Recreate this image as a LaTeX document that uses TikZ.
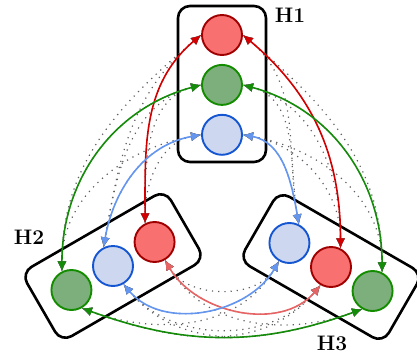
\documentclass[tikz,border=0pt]{standalone}
\usepackage{tikz}
\usetikzlibrary{arrows.meta, positioning}

\definecolor{ballred}{RGB}{248,112,112}
\definecolor{rimred}{RGB}{160,0,0}
\definecolor{ballgreen}{RGB}{125,175,125}
\definecolor{rimgreen}{RGB}{20,140,0}
\definecolor{ballblue}{RGB}{205,215,240}
\definecolor{rimblue}{RGB}{20,85,210}
\definecolor{linkred}{RGB}{210,0,0}
\definecolor{linksalmon}{RGB}{230,100,100}
\definecolor{linkgreen}{RGB}{20,140,10}
\definecolor{linkblue}{RGB}{100,150,240}

\begin{document}
\begin{tikzpicture}[
         x=1pt, y=1pt,
         hostbox/.style={draw, line width=2.6pt, rounded corners=12pt},
         ball/.style={circle, line width=1.9pt, minimum size=40pt, inner sep=0pt},
         redball/.style={ball, draw=rimred, fill=ballred},
         greenball/.style={ball, draw=rimgreen, fill=ballgreen},
         blueball/.style={ball, draw=rimblue, fill=ballblue},
         hostlabel/.style={font=\fontsize{21}{25}\selectfont\bfseries},
         link/.style={{Latex[length=10pt,width=9pt]}-{Latex[length=10pt,width=9pt]}, line width=1.6pt},
         ghost/.style={link, gray!75!black, line width=1.2pt, dash pattern=on 1.2pt off 5pt}
      ]
         \useasboundingbox (0,0) rectangle (417,357);

         % Host H1
         \node[hostbox, minimum width=88pt, minimum height=156pt] (box1) at (222,273) {};
         \node[redball] (h1r) at (222,322) {};
         \node[greenball] (h1g) [below=8pt of h1r] {};
         \node[blueball] (h1b) [below=8pt of h1g] {};
         \node[hostlabel] (l1) at (290,342) {H1};

         % Host H2
         \begin{scope}[shift={(113,91)}, rotate=30]
            \draw[hostbox] (-83,-40) rectangle (83,40);
            \node[greenball] (h2g) at (-48,0) {};
            \node[blueball] (h2b) at (0,0) {};
            \node[redball] (h2r) at (48,0) {};
         \end{scope}
         \node[hostlabel] (l2) at (29,120) {H2};

         % Host H3
         \begin{scope}[shift={(331,90)}, rotate=-30]
            \draw[hostbox] (-83,-40) rectangle (83,40);
            \node[blueball] (h3b) at (-48,0) {};
            \node[redball] (h3r) at (0,0) {};
            \node[greenball] (h3g) at (48,0) {};
         \end{scope}
         \node[hostlabel] (l3) at (332,14) {H3};

         % Dotted links, every pair of hosts
         \foreach \s/\o in {r/220, g/195, b/190}
            \foreach \t/\i in {r/90, g/90, b/80}
               \draw[ghost] (h1\s.west) to[out=\o, in=\i] (h2\t.117);
         \foreach \s/\o in {r/-40, g/-15, b/-10}
            \foreach \t/\i in {r/90, g/90, b/100}
               \draw[ghost] (h1\s.east) to[out=\o, in=\i] (h3\t.63);
         \foreach \s/\o in {r/-60, b/-50, g/-20}
            \foreach \t/\i in {r/-130, b/-120, g/-160}
               \draw[ghost] (h2\s.-60) to[out=\o, in=\i] (h3\t.-120);

         % Links of the same colour
         \draw[link, linkred] (h1r.west) to[out=220, in=90] (h2r.117);
         \draw[link, linkgreen] (h1g.west) to[out=195, in=90] (h2g.117);
         \draw[link, linkblue] (h1b.west) to[out=190, in=80] (h2b.117);
         \draw[link, linkred] (h1r.east) to[out=-40, in=90] (h3r.63);
         \draw[link, linkgreen] (h1g.east) to[out=-15, in=90] (h3g.63);
         \draw[link, linkblue] (h1b.east) to[out=-10, in=100] (h3b.63);
         \draw[link, linksalmon] (h2r.-60) to[out=-60, in=-130] (h3r.-120);
         \draw[link, linkblue] (h2b.-60) to[out=-50, in=-120] (h3b.-120);
         \draw[link, linkgreen] (h2g.-60) to[out=-20, in=-160] (h3g.-120);

      \end{tikzpicture}
\end{document}
